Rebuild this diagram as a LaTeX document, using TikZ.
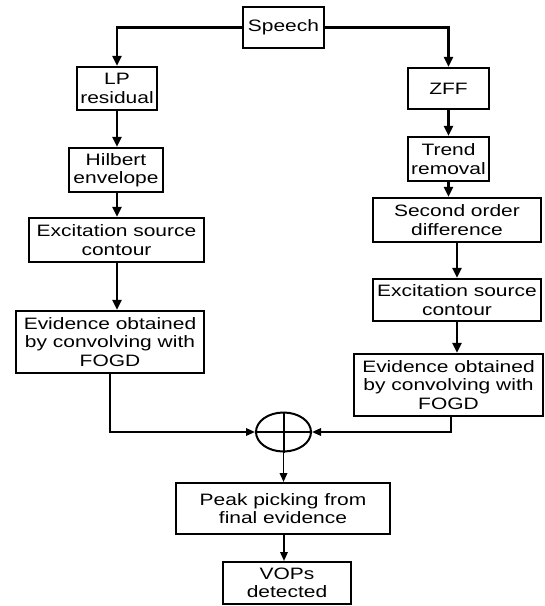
\documentclass[tikz,border=0pt]{standalone}
\usepackage{fontspec}
\setmainfont{Liberation Sans}[FakeStretch=1.27]
\usetikzlibrary{arrows.meta,shapes.geometric}
\tikzset{
  blk/.style={draw=black, line width=2.3pt, rectangle, inner sep=0pt, align=center,
    font=\fontsize{16.5}{18.5}\selectfont},
  blkb/.style={blk, line width=2pt},
  arr/.style={line width=2.3pt, -{Triangle[length=10pt,width=9pt]}},
  arrs/.style={line width=1.8pt, -{Triangle[length=9pt,width=7.5pt]}},
}
\begin{document}
\begin{tikzpicture}[x=1pt,y=-1pt]
\useasboundingbox (0,0) rectangle (545,606);
\node[blk, minimum width=81pt, minimum height=41pt] (speech) at (283.5,27.5) {Speech};
\node[blk, minimum width=80pt, minimum height=43pt] (lp) at (117,88.5) {LP\\residual};
\node[blk, minimum width=81pt, minimum height=41pt] (zff) at (448.5,88.5) {ZFF};
\node[blk, minimum width=94pt, minimum height=44pt] (hil) at (116,170) {Hilbert\\envelope};
\node[blk, minimum width=81pt, minimum height=44pt] (trend) at (448.5,159) {Trend\\removal};
\node[blk, minimum width=168pt, minimum height=44pt] (sec) at (457,220) {Second order\\difference};
\node[blk, minimum width=175pt, minimum height=44pt] (excL) at (116.5,240) {Excitation source\\contour};
\node[blk, minimum width=188pt, minimum height=62pt] (evL) at (110,342) {Evidence obtained\\by convolving with\\FOGD};
\node[blk, minimum width=168pt, minimum height=42pt] (excR) at (457,300) {Excitation source\\contour};
\node[blk, minimum width=189pt, minimum height=62pt] (evR) at (448.5,385) {Evidence obtained\\by convolving with\\FOGD};
\node[draw=black, line width=2pt, ellipse, inner sep=0pt, minimum width=55pt, minimum height=39pt] (sum) at (283.5,432) {};
\node[blkb, minimum width=214pt, minimum height=51pt] (peak) at (283,508.5) {Peak picking from\\final evidence};
\node[blkb, minimum width=128pt, minimum height=42pt] (vops) at (287,583) {VOPs\\detected};
\coordinate (evRout) at ([xshift=2.5pt]evR.south);
% cross inside summing junction
\draw[line width=2pt] (sum.north) -- (sum.south);
\draw[line width=2pt] (sum.west) -- (sum.east);
% connectors
\draw[arr] (speech.west) -| (lp.north);
\draw[arr] (speech.east) -| (zff.north);
\draw[arr] (lp.south) -- (lp.south |- hil.north);
\draw[arr] ([xshift=1pt]hil.south) -- ([xshift=1pt]hil.south |- excL.north);
\draw[arr] ([xshift=0.5pt]excL.south) -- ([xshift=0.5pt]excL.south |- evL.north);
\draw[arr] (zff.south) -- (zff.south |- trend.north);
\draw[arr] (trend.south) -- (trend.south |- sec.north);
\draw[arr] (sec.south) -- (excR.north);
\draw[arr] (excR.south) -- (excR.south |- evR.north);
\draw[arrs] (evL.south) |- (sum.west);
\draw[arrs] (evRout) |- (sum.east);
\draw[arrs] (sum.south) -- (sum.south |- peak.north);
\draw[arrs] ([xshift=1pt]peak.south) -- ([xshift=1pt]peak.south |- vops.north);
\end{tikzpicture}
\end{document}
